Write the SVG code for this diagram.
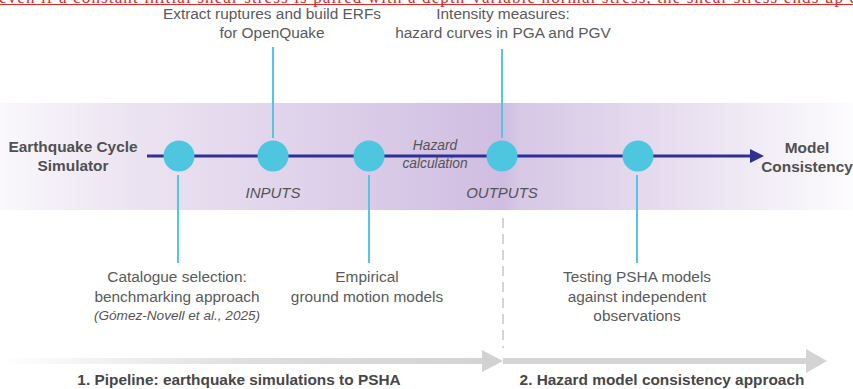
<svg xmlns="http://www.w3.org/2000/svg" width="853" height="389" viewBox="0 0 853 389">
<style>
.t{font-family:"Liberation Sans",Arial,sans-serif;fill:#5a5a5a;font-size:15.4px;text-anchor:middle}
.b{font-family:"Liberation Sans",Arial,sans-serif;fill:#505050;font-size:15.4px;font-weight:bold;text-anchor:middle}
.i{font-family:"Liberation Sans",Arial,sans-serif;fill:#555;font-style:italic;text-anchor:middle}
.node{fill:#4fc6e0}
.conn{stroke:#55c5e2;stroke-width:2;fill:none}
</style>
<defs>
<linearGradient id="band" x1="0" y1="0" x2="853" y2="0" gradientUnits="userSpaceOnUse">
<stop offset="0" stop-color="#faf8fc"/>
<stop offset="0.15" stop-color="#ece4f2"/>
<stop offset="0.59" stop-color="#d0bde2"/>
<stop offset="0.61" stop-color="#d7c8e6"/>
<stop offset="0.8" stop-color="#e8dff0"/>
<stop offset="1" stop-color="#fdfcfe"/>
</linearGradient>
<linearGradient id="g1" x1="0" y1="0" x2="503" y2="0" gradientUnits="userSpaceOnUse">
<stop offset="0" stop-color="#d6d6d6" stop-opacity="0"/>
<stop offset="0.5" stop-color="#d6d6d6" stop-opacity="0.8"/>
<stop offset="1" stop-color="#d2d2d2"/>
</linearGradient>
</defs>
<rect width="853" height="389" fill="#fff"/>
<text x="-1" y="3.2" font-family="Liberation Serif,serif" font-size="17" fill="#d42a2a" textLength="858" lengthAdjust="spacing">even if a constant initial shear stress is paired with a depth-variable normal stress, the shear stress ends up c</text>
<line x1="0" y1="4.5" x2="853" y2="4.5" stroke="#d42a2a" stroke-width="1.2"/>
<rect x="0" y="103" width="853" height="107" fill="url(#band)"/>
<g id="bottom-arrows">
<rect x="0" y="358" width="486" height="6" fill="url(#g1)"/>
<polygon points="482,350 503,361 482,372" fill="#d2d2d2"/>
<rect x="503" y="358" width="306" height="6" fill="#d4d4d4"/>
<polygon points="806,349 827,361 806,373" fill="#d4d4d4"/>
</g>
<line x1="503" y1="218" x2="503" y2="348" stroke="#d4d4d4" stroke-width="2" stroke-dasharray="10,6"/>
<g id="connectors">
<line class="conn" x1="147" y1="156" x2="754" y2="156" style="stroke:#2e3192;stroke-width:3"/>
<polygon points="750,149 764,156 750,163" fill="#2e3192"/>
<line class="conn" x1="273" y1="47" x2="273" y2="138"/>
<line class="conn" x1="502" y1="49" x2="502" y2="138"/>
<line class="conn" x1="178" y1="175" x2="178" y2="263"/>
<line class="conn" x1="369" y1="175" x2="369" y2="263"/>
<line class="conn" x1="637" y1="175" x2="637" y2="263"/>
</g>
<g id="n1"><circle class="node" cx="179" cy="156" r="15.5"/>
<text class="t" x="177" y="282">Catalogue selection:</text>
<text class="t" x="177" y="302">benchmarking approach</text>
<text class="i" x="177" y="320" font-size="13.6">(Gómez-Novell et al., 2025)</text></g>
<g id="n2"><circle class="node" cx="273" cy="156" r="15.5"/>
<text class="t" x="272" y="19">Extract ruptures and build ERFs</text>
<text class="t" x="272" y="38">for OpenQuake</text></g>
<g id="n3"><circle class="node" cx="369" cy="156" r="15.5"/>
<text class="t" x="367" y="282">Empirical</text>
<text class="t" x="367" y="302">ground motion models</text></g>
<g id="n4"><circle class="node" cx="502" cy="156" r="15.5"/>
<text class="t" x="503" y="19">Intensity measures:</text>
<text class="t" x="503" y="38">hazard curves in PGA and PGV</text></g>
<g id="n5"><circle class="node" cx="638" cy="156" r="15.5"/>
<text class="t" x="637" y="282">Testing PSHA models</text>
<text class="t" x="637" y="302">against independent</text>
<text class="t" x="637" y="321">observations</text></g>
<g id="start"><text class="b" x="73" y="152">Earthquake Cycle</text><text class="b" x="73" y="171">Simulator</text></g>
<g id="end"><text class="b" x="807" y="153">Model</text><text class="b" x="807" y="172">Consistency</text></g>
<text class="i" x="273" y="198" font-size="15">INPUTS</text>
<text class="i" x="502" y="198" font-size="15">OUTPUTS</text>
<text class="i" x="435" y="150" font-size="13.8">Hazard</text>
<text class="i" x="435" y="168" font-size="13.8">calculation</text>
<text class="b" x="239" y="385" style="fill:#474747">1. Pipeline: earthquake simulations to PSHA</text>
<text class="b" x="662" y="385" style="fill:#474747">2. Hazard model consistency approach</text>
</svg>
